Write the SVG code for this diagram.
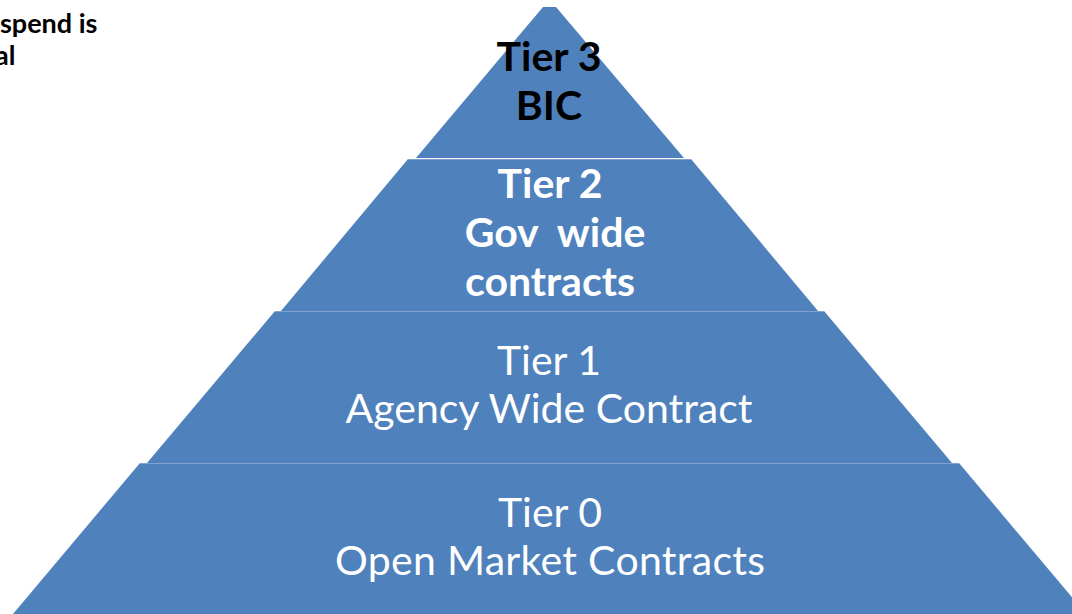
<svg xmlns="http://www.w3.org/2000/svg" width="1072" height="614" viewBox="0 0 1072 614">
<style>
.seg{fill:#4F81BD}
.sep{stroke:#7FA2D0;stroke-width:1.2}
.t{font-family:Lato,"Open Sans","Liberation Sans",sans-serif;font-size:41px;text-anchor:middle}
.b{font-weight:bold}
.w{fill:#FFFFFF}
.k{fill:#000000}
.note{font-family:Lato,"Liberation Sans",sans-serif;font-weight:bold;font-size:27px;fill:#000}
</style>
<rect width="1072" height="614" fill="#FFFFFF"/>
<g id="note">
<text class="note" x="0" y="33">spend is</text>
<text class="note" x="-5" y="65">al</text>
</g>
<g id="tier0">
<polygon class="seg" points="140,463 959,463 1086,614 13,614"/>
<line class="sep" x1="140" y1="463.5" x2="959" y2="463.5"/>
<text class="t w" x="550" y="527">Tier 0</text>
<text class="t w" x="550" y="575" textLength="430">Open Market Contracts</text>
</g>
<g id="tier1">
<polygon class="seg" points="275,311 824,311 952,463 147,463"/>
<line class="sep" x1="275" y1="311.5" x2="824" y2="311.5"/>
<text class="t w" x="549" y="375">Tier 1</text>
<text class="t w" x="549" y="423">Agency Wide Contract</text>
</g>
<g id="tier2">
<polygon class="seg" points="408,159 691,159 818,311 281,311"/>
<line class="sep" x1="408" y1="159.5" x2="691" y2="159.5"/>
<text class="t b w" x="550" y="198">Tier 2</text>
<text class="t b w" x="555" y="247" xml:space="preserve">Gov  wide</text>
<text class="t b w" x="550" y="296">contracts</text>
</g>
<g id="tier3">
<polygon class="seg" points="543,7 556,7 684,158 416,158"/>
<text class="t b k" x="549" y="71">Tier 3</text>
<text class="t b k" x="549" y="120">BIC</text>
</g>
<g id="connectors"/>
</svg>
